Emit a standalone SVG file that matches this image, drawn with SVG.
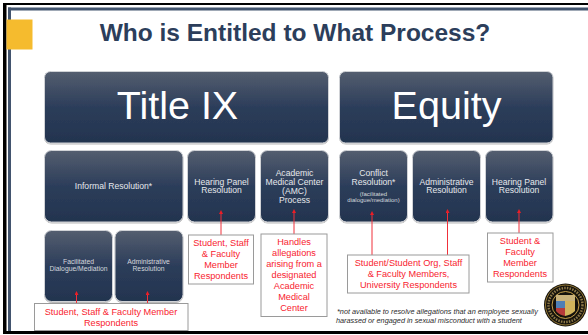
<svg xmlns="http://www.w3.org/2000/svg" width="588" height="335" viewBox="0 0 588 335">
<style>
text{font-family:"Liberation Sans",Arial,sans-serif;text-anchor:middle}
.n{fill:url(#g);stroke:#d0d2d6;stroke-width:1;filter:url(#s)}
.t{fill:#e6e8ec;font-size:8.6px}
.s{fill:#d4d7dc;font-size:6.8px}
.b{fill:#fff;stroke:#9a9a9a;stroke-width:1}
.r{fill:#f8232f;font-size:9.2px}
.c{fill:none;stroke:#f0303a;stroke-width:1;marker-end:url(#a)}
.f{fill:#2b2b2b;font-size:7.3px;font-style:italic;text-anchor:start}
</style>
<defs>
<linearGradient id="g" x1="0" y1="0" x2="0" y2="1"><stop offset="0" stop-color="#545e6f"/><stop offset=".5" stop-color="#2c3d5a"/><stop offset="1" stop-color="#23344f"/></linearGradient>
<filter id="s" x="-5%" y="-5%" width="110%" height="112%"><feDropShadow dx="0" dy=".8" stdDeviation=".7" flood-color="#000" flood-opacity=".35"/></filter>
<marker id="a" markerWidth="4" markerHeight="4" refX="2" refY="2" orient="auto" markerUnits="strokeWidth" viewBox="0 0 4 4"><path d="M0 0L4 2L0 4Z" fill="#ee1c25"/></marker>
</defs>
<rect width="588" height="335" fill="#fff"/>
<g id="frame">
<rect x="3" y="3" width="585" height="2" fill="#000"/>
<rect x="3" y="3" width="3.500" height="331" fill="#000"/>
<rect x="3" y="331" width="585" height="3" fill="#000"/>
<rect x="8" y="7.500" width="580" height="3" fill="#42546e"/>
<rect x="8" y="7.500" width="3" height="323.500" fill="#42546e"/>
<rect x="6.500" y="19.500" width="26" height="30" fill="#f5bb2e"/>
</g>
<text x="295" y="41" font-size="24.500" font-weight="bold" fill="#2c3e5b">Who is Entitled to What Process?</text>
<g id="title-ix"><rect class="n" x="44.500" y="71.500" width="284" height="71.500" rx="6"/><text x="177.500" y="119" font-size="39.500" fill="#fff">Title IX</text></g>
<g id="equity"><rect class="n" x="339.500" y="71.500" width="213.500" height="71.500" rx="6"/><text x="446.500" y="119" font-size="39.500" fill="#fff">Equity</text></g>
<g id="informal"><rect class="n" x="44.500" y="150.500" width="138.500" height="71.500" rx="7"/><text class="t" x="113.500" y="189">Informal Resolution*</text></g>
<g id="hearing-1"><rect class="n" x="187.500" y="150.500" width="68" height="71.500" rx="7"/><text class="t" x="221.500" y="184.700">Hearing Panel<tspan x="221.500" dy="8.700">Resolution</tspan></text></g>
<g id="amc"><rect class="n" x="260.500" y="150.500" width="68" height="71.500" rx="7"/><text class="t" x="294.500" y="176">Academic<tspan x="294.500" dy="9">Medical Center</tspan><tspan x="294.500" dy="9">(AMC)</tspan><tspan x="294.500" dy="8.700">Process</tspan></text></g>
<g id="conflict"><rect class="n" x="339.500" y="150.500" width="68" height="71.500" rx="7"/><text class="t" x="373.500" y="176">Conflict<tspan x="373.500" dy="9">Resolution*</tspan></text><text x="373.500" y="196" font-size="6" fill="#d4d7dc">(facilitated<tspan x="373.500" dy="6.100">dialogue/mediation)</tspan></text></g>
<g id="admin-1"><rect class="n" x="412.500" y="150.500" width="68" height="71.500" rx="7"/><text class="t" x="446.500" y="184.700">Administrative<tspan x="446.500" dy="8.700">Resolution</tspan></text></g>
<g id="hearing-2"><rect class="n" x="485.500" y="150.500" width="67.500" height="71.500" rx="7"/><text class="t" x="519" y="184.700">Hearing Panel<tspan x="519" dy="8.700">Resolution</tspan></text></g>
<g id="facilitated"><rect class="n" x="44.500" y="230.500" width="68" height="71" rx="7"/><text class="s" x="78.500" y="264">Facilitated<tspan x="78.500" dy="7">Dialogue/Mediation</tspan></text></g>
<g id="admin-2"><rect class="n" x="115" y="230.500" width="68" height="71" rx="7"/><text class="s" x="148.500" y="264">Administrative<tspan x="148.500" dy="7">Resolution</tspan></text></g>
<g id="connectors">
<path class="c" d="M76.500 303V293"/>
<path class="c" d="M147.500 303V293"/>
<path class="c" d="M221 235V212"/>
<path class="c" d="M294 234V211"/>
<path class="c" d="M372 255V213"/>
<path class="c" d="M447.500 255V211"/>
<path class="c" d="M519 233V211"/>
</g>
<g id="label-1"><rect class="b" x="34.500" y="303.500" width="153.500" height="27"/><text class="r" x="111" y="315">Student, Staff &amp; Faculty Member<tspan x="111" dy="11">Respondents</tspan></text></g>
<g id="label-2"><rect class="b" x="188.500" y="235" width="65" height="49"/><text class="r" x="221" y="246">Student, Staff<tspan x="221" dy="11">&amp; Faculty</tspan><tspan x="221" dy="11">Member</tspan><tspan x="221" dy="11">Respondents</tspan></text></g>
<g id="label-3"><rect class="b" x="261" y="234" width="66" height="82.500"/><text class="r" x="294" y="245">Handles<tspan x="294" dy="11">allegations</tspan><tspan x="294" dy="11">arising from a</tspan><tspan x="294" dy="11">designated</tspan><tspan x="294" dy="11">Academic</tspan><tspan x="294" dy="11">Medical</tspan><tspan x="294" dy="11">Center</tspan></text></g>
<g id="label-4"><rect class="b" x="347.500" y="255" width="121.500" height="38"/><text class="r" x="408.500" y="266">Student/Student Org, Staff<tspan x="408.500" dy="11">&amp; Faculty Members,</tspan><tspan x="408.500" dy="11">University Respondents</tspan></text></g>
<g id="label-5"><rect class="b" x="487.500" y="233" width="65.500" height="49"/><text class="r" x="520" y="244">Student &amp;<tspan x="520" dy="11">Faculty</tspan><tspan x="520" dy="11">Member</tspan><tspan x="520" dy="11">Respondents</tspan></text></g>
<text class="f" x="337" y="314">*not available to resolve allegations that an employee sexually<tspan x="336" dy="9">harassed or engaged in sexual misconduct with a student</tspan></text>
<g id="seal">
<circle cx="565.500" cy="305" r="21.500" fill="#15120c"/>
<circle cx="565.500" cy="305" r="20" fill="none" stroke="#b4923e" stroke-width=".8"/>
<circle cx="565.500" cy="305" r="13.500" fill="none" stroke="#c5a04a" stroke-width="1"/>
<circle cx="565.500" cy="305" r="17" fill="none" stroke="#8f7a48" stroke-width="2.500" stroke-dasharray="1.500 1.200"/>
<rect x="556" y="295" width="19" height="6" fill="#c9b27a"/>
<rect x="556" y="301" width="9" height="7" fill="#4f7fb5"/>
<rect x="565" y="301" width="10" height="7" fill="#d2b45c"/>
<path d="M556 308H565V316Q559 315 556 311Z" fill="#b53a3a"/>
<path d="M565 308H575V311Q571 315 565 316Z" fill="#d2b45c"/>
</g>
</svg>
